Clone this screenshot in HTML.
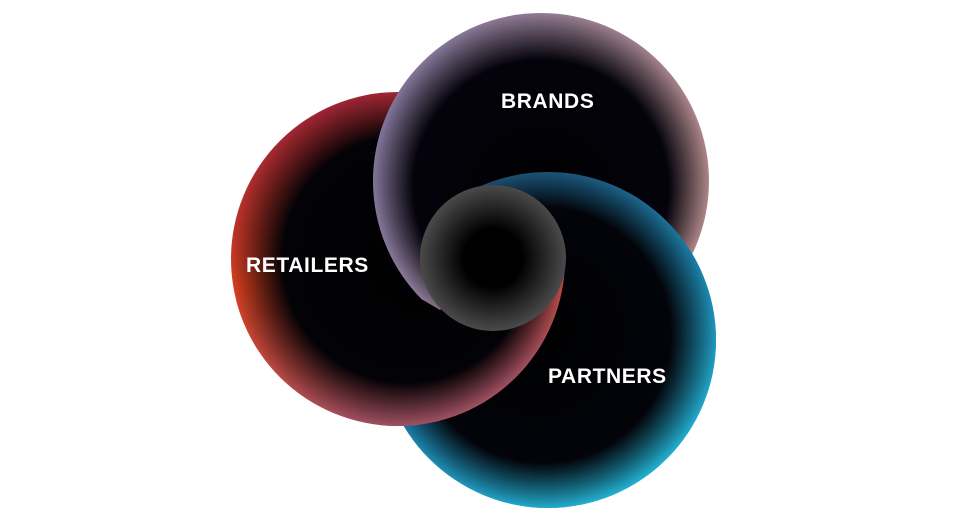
<!DOCTYPE html>
<html><head><style>html,body{margin:0;padding:0;background:#fff;}svg{display:block}</style></head>
<body>
<svg width="960" height="518" viewBox="0 0 960 518" xmlns="http://www.w3.org/2000/svg">
<defs>
<linearGradient id="lr" x1="0" y1="0" x2="0.3" y2="1">
<stop offset="0" stop-color="#8e1d3c"/><stop offset="0.55" stop-color="#d8401f"/><stop offset="1" stop-color="#a05060"/></linearGradient>
<linearGradient id="lb" x1="0" y1="0" x2="1" y2="0.3">
<stop offset="0" stop-color="#8a80b0"/><stop offset="1" stop-color="#c09498"/></linearGradient>
<linearGradient id="lp" x1="0" y1="0" x2="0.6" y2="1">
<stop offset="0" stop-color="#1a3a5a"/><stop offset="0.6" stop-color="#1c7ea8"/><stop offset="1" stop-color="#22b0d0"/></linearGradient>
<radialGradient id="dr" cx="0.5" cy="0.5" r="0.5" fx="0.6" fy="0.5">
<stop offset="0" stop-color="#000" stop-opacity="1"/><stop offset="0.74" stop-color="#030206" stop-opacity="1"/><stop offset="1" stop-color="#000" stop-opacity="0"/></radialGradient>
<radialGradient id="db" cx="0.5" cy="0.5" r="0.5" fx="0.5" fy="0.58">
<stop offset="0" stop-color="#000" stop-opacity="1"/><stop offset="0.76" stop-color="#04030c" stop-opacity="1"/><stop offset="1" stop-color="#000" stop-opacity="0.1"/></radialGradient>
<radialGradient id="dp" cx="0.5" cy="0.5" r="0.5" fx="0.44" fy="0.44">
<stop offset="0" stop-color="#000" stop-opacity="1"/><stop offset="0.76" stop-color="#03040a" stop-opacity="1"/><stop offset="1" stop-color="#000" stop-opacity="0"/></radialGradient>
<radialGradient id="dc" cx="0.5" cy="0.5" r="0.5">
<stop offset="0" stop-color="#000"/><stop offset="0.4" stop-color="#000"/><stop offset="1" stop-color="#4a4a4a"/></radialGradient>
<clipPath id="pr"><polygon points="450,0 960,0 960,518 493,518 493,258 450,258"/></clipPath>
<clipPath id="low"><polygon points="0,518 0,300 423,300 440,310 493,258 720,258 720,518"/></clipPath>
</defs>
<circle cx="548" cy="340" r="168" fill="url(#lp)"/><circle cx="548" cy="340" r="168" fill="url(#dp)"/>
<circle cx="398" cy="259" r="167" fill="url(#lr)"/><circle cx="398" cy="259" r="167" fill="url(#dr)"/>
<circle cx="541" cy="181" r="168" fill="url(#lb)"/><circle cx="541" cy="181" r="168" fill="url(#db)"/>
<g clip-path="url(#pr)"><circle cx="548" cy="340" r="168" fill="url(#lp)"/><circle cx="548" cy="340" r="168" fill="url(#dp)"/></g>
<g clip-path="url(#low)"><circle cx="398" cy="259" r="167" fill="url(#lr)"/><circle cx="398" cy="259" r="167" fill="url(#dr)"/></g>
<circle cx="493" cy="258" r="73" fill="url(#dc)"/>
<g font-family="Liberation Sans, sans-serif" font-weight="bold" font-size="21" fill="#fff" letter-spacing="0.6">
<text x="501" y="108">BRANDS</text>
<text x="246" y="272">RETAILERS</text>
<text x="548" y="383">PARTNERS</text>
</g>
</svg>
</body></html>
